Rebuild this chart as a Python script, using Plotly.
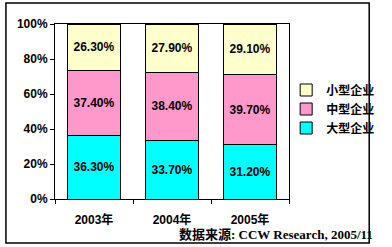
import plotly.graph_objects as go

years = ["2003年", "2004年", "2005年"]
large = [36.3, 33.7, 31.2]
medium = [37.4, 38.4, 39.7]
small = [26.3, 27.9, 29.1]
series_names = ["大型企业", "中型企业", "小型企业"]
colors = ["#00FFFF", "#FF99CC", "#FFFFCC"]
yticks = [0, 20, 40, 60, 80, 100]

W, H = 392, 247
L, R, T, B = 55, 89, 24, 48
pw, ph = W - L - R, H - T - B

def px(x):
    return (x - L) / pw

def py(y):
    return (H - B - y) / ph

fig = go.Figure()
for name, vals, col in zip(series_names, [large, medium, small], colors):
    fig.add_trace(go.Bar(
        x=years, y=vals, name=name,
        marker=dict(color=col, line=dict(color="black", width=1)),
        text=[f"{v:.2f}%" for v in vals], textposition="inside",
        insidetextanchor="middle",
        textfont=dict(family="Liberation Sans", size=12, color="black", weight="bold"),
        width=0.68,
    ))

fig.update_layout(
    barmode="stack",
    width=W, height=H,
    margin=dict(l=L, r=R, t=T, b=B),
    paper_bgcolor="white", plot_bgcolor="white",
    showlegend=True,
    legend=dict(
        traceorder="reversed", x=px(300), y=py(109), xanchor="left", yanchor="middle",
        font=dict(family="Noto Sans CJK SC", size=12, color="black", weight="bold"),
        itemwidth=30, tracegroupgap=0, bgcolor="rgba(0,0,0,0)",
    ),
    xaxis=dict(
        showline=True, linecolor="black", linewidth=1, mirror=True,
        ticks="outside", tickson="boundaries", ticklen=4, tickcolor="black",
        tickfont=dict(family="Liberation Sans, Noto Sans CJK SC", size=12, color="black", weight="bold"),
        ticklabelstandoff=10,
    ),
    yaxis=dict(
        range=[0, 100], tickvals=yticks, ticktext=[f"{v}%" for v in yticks],
        showline=True, linecolor="black", linewidth=1, mirror=True,
        ticks="outside", ticklen=4, tickcolor="black", showgrid=False,
        tickfont=dict(family="Liberation Sans", size=12, color="black", weight="bold"),
    ),
    shapes=[dict(type="rect", xref="paper", yref="paper",
                 x0=px(3), x1=px(388), y0=py(243), y1=py(3),
                 line=dict(color="black", width=1.5), fillcolor="rgba(0,0,0,0)")],
    annotations=[dict(
        text="数据来源: CCW Research, 2005/11", xref="paper", yref="paper",
        x=px(184), y=py(234), xanchor="left", yanchor="middle", showarrow=False,
        font=dict(family="Liberation Serif, Noto Sans CJK SC", size=13, color="black", weight="bold"),
    )],
)

fig.write_html("out.html")
